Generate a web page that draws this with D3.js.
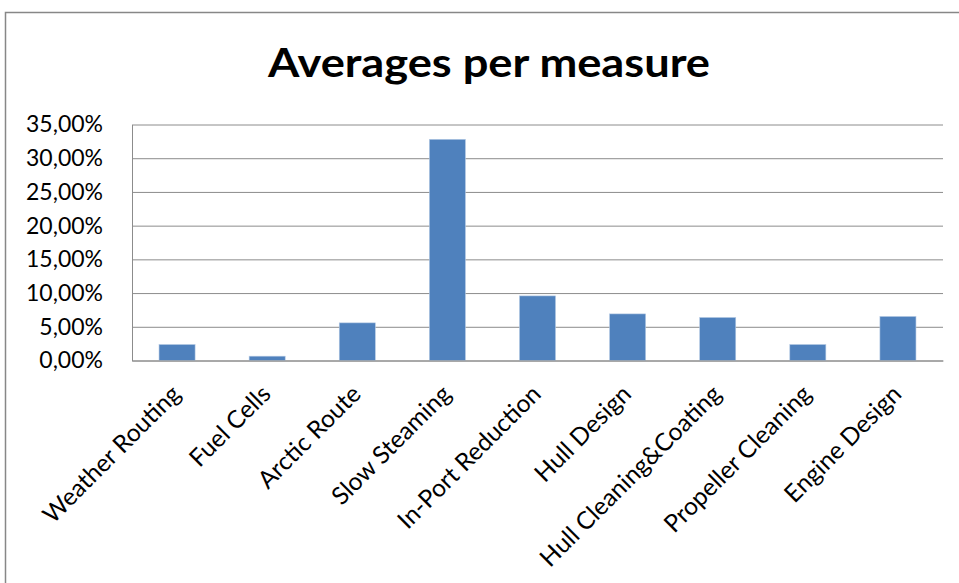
<!DOCTYPE html>
<html>
<head>
<meta charset="utf-8">
<script src="https://cdn.jsdelivr.net/npm/d3@7"></script>
<style>
	body { margin: 0; background: #fff; }
	svg { display: block; }
</style>
</head>
<body>
<div id="chart"></div>
<script>
const titleText = "Averages per measure";
const categories = ["Weather Routing", "Fuel Cells", "Arctic Route", "Slow Steaming", "In-Port Reduction",
	"Hull Design", "Hull Cleaning&Coating", "Propeller Cleaning", "Engine Design"];
const averages = [0.0237, 0.0064, 0.0558, 0.328, 0.0958, 0.0691, 0.0638, 0.0237, 0.0653];
const yTicks = [0, 0.05, 0.10, 0.15, 0.20, 0.25, 0.30, 0.35];

const width = 959, height = 583;
const margin = {top: 124.5, right: 16, bottom: 222.5, left: 132};
const w = width - margin.left - margin.right;
const h = height - margin.top - margin.bottom;

// comma decimals, like the source spreadsheet
const locale = d3.formatLocale({decimal: ",", thousands: ".", grouping: [3], currency: ["", "€"]});
const fmt = locale.format(".2%");

const svg = d3.select('#chart').append('svg')
	.attr('width', width)
	.attr('height', height);

// chart frame (only top and left edges are in view)
svg.append('rect')
	.attr('x', 5.5).attr('y', 12.5)
	.attr('width', width + 20).attr('height', height + 20)
	.style('fill', 'none')
	.style('stroke', '#878787')
	.style('stroke-width', 1.5);

svg.append('text')
	.attr('x', 489).attr('y', 77)
	.attr('text-anchor', 'middle')
	.style('font-family', 'Lato, sans-serif')
	.style('font-weight', 'bold')
	.style('font-size', '41px')
	.attr('textLength', 442)
	.attr('lengthAdjust', 'spacingAndGlyphs')
	.text(titleText);

const g = svg.append('g')
	.attr('transform', `translate(${margin.left},${margin.top})`);

const x = d3.scaleBand()
	.domain(categories)
	.range([0, w])
	.paddingInner(0.6)
	.paddingOuter(0.3);

const y = d3.scaleLinear()
	.domain([0, 0.35])
	.range([h, 0]);

const yAxis = g.append('g')
	.call(d3.axisLeft(y).tickValues(yTicks).tickFormat(fmt).tickSize(-w).tickSizeOuter(0).tickPadding(29));
yAxis.select('.domain').style('stroke', '#8c8c8c');
yAxis.selectAll('line').style('stroke', '#8c8c8c');
yAxis.selectAll('text')
	.style('font-family', 'Lato, sans-serif')
	.style('font-size', '23px')
	.style('fill', '#000');

g.selectAll('.bar')
	.data(averages)
	.enter().append('rect')
	.attr('class', 'bar')
	.attr('x', (d, i) => x(categories[i]))
	.attr('y', (d) => y(d))
	.attr('width', x.bandwidth())
	.attr('height', (d) => h - y(d))
	.style('fill', '#4f81bd')
	.style('stroke', '#b3c8e3')
	.style('stroke-width', 0.6);

const xAxis = g.append('g')
	.attr('transform', `translate(0,${h})`)
	.call(d3.axisBottom(x).tickSize(0).tickSizeOuter(0));
xAxis.select('.domain').style('stroke', '#8c8c8c');
xAxis.selectAll('text')
	.attr('x', 0).attr('y', 0).attr('dy', null)
	.attr('transform', (d) => `translate(${x.bandwidth() * 0.25 - 4},35) rotate(-45)`)
	.attr('text-anchor', 'end')
	.style('font-family', 'Lato, sans-serif')
	.style('font-size', '24.5px')
	.style('fill', '#000');
</script>
</body>
</html>
